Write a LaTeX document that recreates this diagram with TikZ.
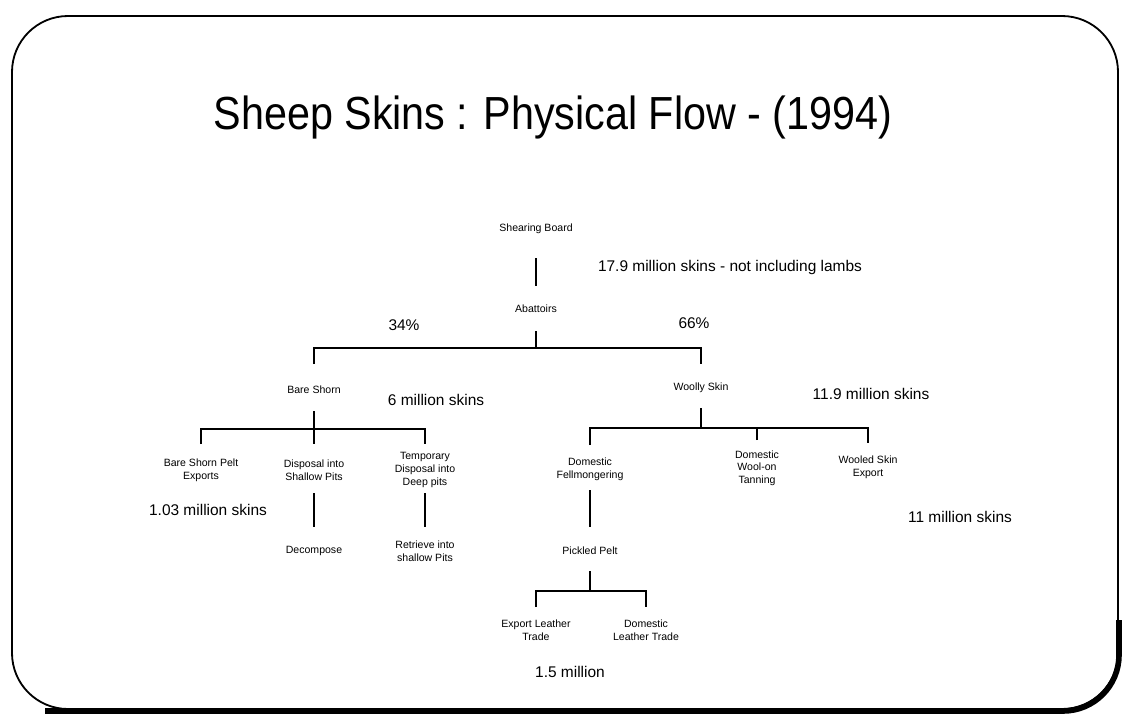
\documentclass[tikz,border=0pt]{standalone}
\usepackage{fontspec}
\setmainfont{Liberation Sans}
\usetikzlibrary{calc}
\tikzset{
  lbl/.style={font=\fontsize{7.5}{9}\selectfont, align=center, inner sep=0pt},
  amount/.style={font=\fontsize{11}{13}\selectfont, inner sep=0pt},
  flow/.style={line width=1.2pt},
}

\begin{document}
\begin{tikzpicture}[x=0.025cm,y=-0.025cm]
    \useasboundingbox (0,0) rectangle (1122,718);
    % slide frame with its shadow
    \draw[line width=1.3pt,rounded corners=1.4cm] (12,16) rectangle (1118,709);
    \draw[line width=4pt,rounded corners=1.4cm] (45,711) -| (1119,620);

    \node[font=\fontsize{33}{38}\selectfont,xscale=0.89] (title) at (553,117) {Sheep Skins : Physical Flow - (1994)};

    \node[lbl] (board) at (536,229) {Shearing Board};
    \node[lbl] (abatt) at (536,309) {Abattoirs};
    \node[lbl] (bare) at (314,390) {Bare Shorn};
    \node[lbl] (woolly) at (701,388) {Woolly Skin};
    \node[lbl] (bspe) at (201,470) {Bare Shorn Pelt\\Exports};
    \node[lbl] (shallow) at (314,470) {Disposal into\\Shallow Pits};
    \node[lbl] (temp) at (425,470) {Temporary\\Disposal into\\Deep pits};
    \node[lbl] (decomp) at (314,551) {Decompose};
    \node[lbl] (retr) at (425,551) {Retrieve into\\shallow Pits};
    \node[lbl] (fell) at (590,469) {Domestic\\Fellmongering};
    \node[lbl] (tan) at (757,468) {Domestic\\Wool-on\\Tanning};
    \node[lbl] (wexp) at (868,467) {Wooled Skin\\Export};
    \node[lbl] (pick) at (590,551) {Pickled Pelt};
    \node[lbl] (expl) at (536,630) {Export Leather\\Trade};
    \node[lbl] (doml) at (646,630) {Domestic\\Leather Trade};

    \node[amount] (n179) at (730,267) {17.9 million skins - not including lambs};
    \node[amount] (p34) at (404,325) {34\%};
    \node[amount] (p66) at (694,323) {66\%};
    \node[amount] (n6) at (436,400) {6 million skins};
    \node[amount] (n119) at (871,394) {11.9 million skins};
    \node[amount] (n103) at (208,510) {1.03 million skins};
    \node[amount] (n11) at (960,517) {11 million skins};
    \node[amount] (n15) at (570,672) {1.5 million};

    % shearing board down to the split
    \draw[flow] ($(board)+(0,29)$) -- ($(abatt)+(0,-23)$);
    \coordinate (sp1) at ($(abatt)+(0,39)$);
    \draw[flow] ($(abatt)+(0,22)$) -- (sp1);
    \draw[flow] ($(bare)+(0,-26)$) |- (sp1) -| ($(woolly)+(0,-24)$);
    % bare shorn
    \coordinate (sp2) at ($(bare)+(0,39)$);
    \draw[flow] ($(bare)+(0,21)$) -- ($(shallow)+(0,-26)$);
    \draw[flow] ($(bspe)+(0,-26)$) |- (sp2) -| ($(temp)+(0,-26)$);
    \draw[flow] ($(shallow)+(0,23)$) -- ($(decomp)+(0,-24)$);
    \draw[flow] ($(temp)+(0,23)$) -- ($(retr)+(0,-24)$);
    % woolly skin
    \coordinate (sp3) at ($(woolly)+(0,40)$);
    \draw[flow] ($(woolly)+(0,20)$) -- (sp3);
    \draw[flow] ($(fell)+(0,-24)$) |- (sp3) -| ($(wexp)+(0,-24)$);
    \draw[flow] ($(tan)+(0,-28)$) -- (tan |- sp3);
    \draw[flow] ($(fell)+(0,21)$) -- ($(pick)+(0,-24)$);
    % pickled pelt
    \coordinate (sp4) at ($(pick)+(0,40)$);
    \draw[flow] ($(pick)+(0,20)$) -- (sp4);
    \draw[flow] ($(expl)+(0,-23)$) |- (sp4) -| ($(doml)+(0,-23)$);
\end{tikzpicture}
\end{document}
